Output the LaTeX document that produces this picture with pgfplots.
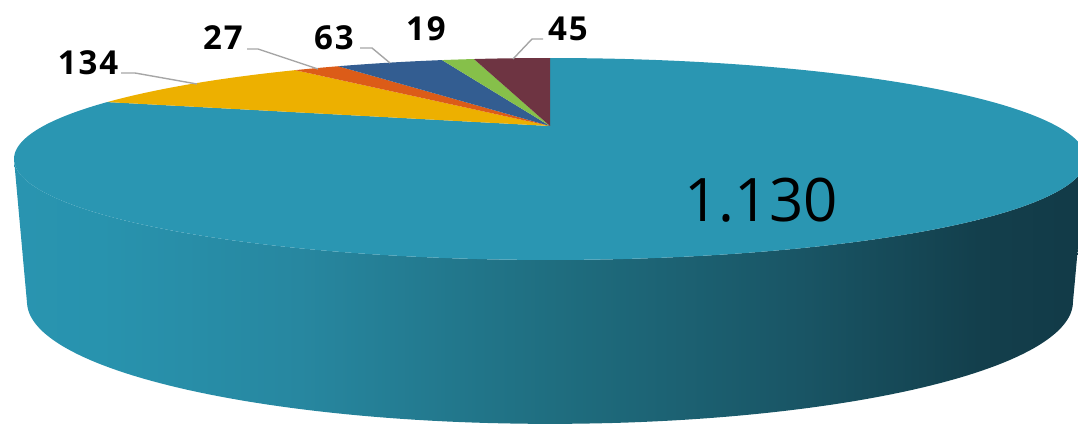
\documentclass[border=0pt]{standalone}
\usepackage{pgfplots}
\pgfplotsset{compat=1.18}
\usepackage{fontspec}
\setmainfont{Open Sans}

% slice colours
\definecolor{cTeal}{HTML}{2A96B2}
\definecolor{cYellow}{HTML}{EDB000}
\definecolor{cOrange}{HTML}{DC5C18}
\definecolor{cBlue}{HTML}{335D91}
\definecolor{cGreen}{HTML}{86C04A}
\definecolor{cMaroon}{HTML}{6E3442}
\definecolor{cLead}{HTML}{A6A6A6}

% side of the pie, light at the left, dark at the right
\definecolor{s0}{HTML}{2994B0}
\definecolor{s1}{HTML}{2893AE}
\definecolor{s2}{HTML}{2787A0}
\definecolor{s3}{HTML}{1F6E80}
\definecolor{s4}{HTML}{195565}
\definecolor{s5}{HTML}{133F4C}
\definecolor{s6}{HTML}{123A47}
\pgfdeclarehorizontalshading{sideshade}{100bp}{color(0bp)=(s0); color(25bp)=(s0);
  color(29bp)=(s1); color(38.3bp)=(s2); color(50bp)=(s3); color(61.7bp)=(s4);
  color(70bp)=(s5); color(75bp)=(s6); color(100bp)=(s6)}

% values
\def\vA{1130}
\def\vB{134}
\def\vC{27}
\def\vD{63}
\def\vE{19}
\def\vF{45}
\pgfmathsetmacro\tot{\vA+\vB+\vC+\vD+\vE+\vF}
\pgfmathsetmacro\aA{360*(\vA/\tot)}
\pgfmathsetmacro\aB{\aA+360*(\vB/\tot)}
\pgfmathsetmacro\aC{\aB+360*(\vC/\tot)}
\pgfmathsetmacro\aD{\aC+360*(\vD/\tot)}
\pgfmathsetmacro\aE{\aD+360*(\vE/\tot)}

\newcommand\lbl{\fontsize{16.5}{18}\selectfont\bfseries\addfontfeature{LetterSpace=6}}

\begin{document}
\begin{tikzpicture}
\begin{axis}[
  scale only axis, width=539pt, height=213.5pt,
  xmin=0, xmax=1078, ymin=0, ymax=427, y dir=reverse,
  axis line style={draw=none}, ticks=none,
  declare function={
    tx(\p)=550+506.6*sin(\p)/(1+0.3267*cos(\p));
    ty(\p)=126-90.2*cos(\p)/(1+0.3267*cos(\p));
    bx(\p)=550+494.3*sin(\p)/(1+0.3267*cos(\p));
    by(\p)=262-109*cos(\p)/(1+0.3267*cos(\p));
  },
]
% side wall
\addplot[draw=none, shade, shading=sideshade, domain=0:2, samples=241, variable=\t]
  ({\t<=1 ? tx(109.07+141.86*\t) : bx(250.93-141.86*(\t-1))},
   {\t<=1 ? ty(109.07+141.86*\t) : by(250.93-141.86*(\t-1))}) -- cycle;

% top face
\addplot[draw=none, fill=cTeal, domain=0:\aA, samples=200, variable=\t]
  ({tx(\t)},{ty(\t)}) -- (axis cs:550,126) -- cycle;
\addplot[draw=none, fill=cYellow, domain=\aA:\aB, samples=30, variable=\t]
  ({tx(\t)},{ty(\t)}) -- (axis cs:550,126) -- cycle;
\addplot[draw=none, fill=cOrange, domain=\aB:\aC, samples=8, variable=\t]
  ({tx(\t)},{ty(\t)}) -- (axis cs:550,126) -- cycle;
\addplot[draw=none, fill=cBlue, domain=\aC:\aD, samples=15, variable=\t]
  ({tx(\t)},{ty(\t)}) -- (axis cs:550,126) -- cycle;
\addplot[draw=none, fill=cGreen, domain=\aD:\aE, samples=6, variable=\t]
  ({tx(\t)},{ty(\t)}) -- (axis cs:550,126) -- cycle;
\addplot[draw=none, fill=cMaroon, domain=\aE:360, samples=12, variable=\t]
  ({tx(\t)},{ty(\t)}) -- (axis cs:550,126) -- cycle;

% leader lines
\addplot[cLead, line width=0.7pt] coordinates {(121,73) (135,73) (197,84)};
\addplot[cLead, line width=0.7pt] coordinates {(247,49) (258,49) (318,69)};
\addplot[cLead, line width=0.7pt] coordinates {(360,48) (372,48) (390,63)};
\addplot[cLead, line width=0.7pt] coordinates {(543,39) (532,39) (513,59)};

% labels
\node[font=\lbl] at (axis cs:88,63) {134};
\node[font=\lbl] at (axis cs:223,38) {27};
\node[font=\lbl] at (axis cs:334,38) {63};
\node[font=\lbl] at (axis cs:426,29) {19};
\node[font=\lbl] at (axis cs:568,29) {45};
\node[font=\fontsize{30}{34}\selectfont] at (axis cs:761,200) {1.130};
\end{axis}
\end{tikzpicture}
\end{document}
